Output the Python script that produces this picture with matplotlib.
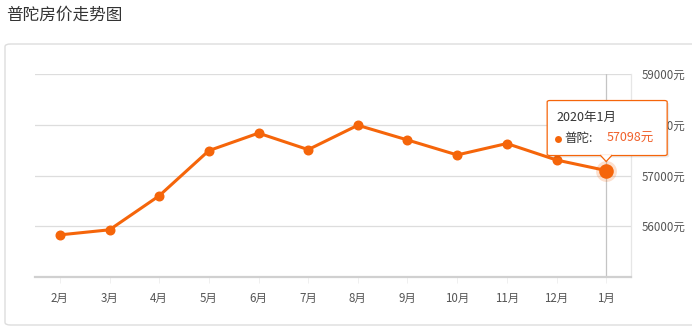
import matplotlib.pyplot as plt
from matplotlib.patches import FancyBboxPatch, Polygon
from matplotlib.lines import Line2D

plt.rcParams['font.family'] = ['Noto Sans CJK SC', 'DejaVu Sans']

months = ['2月', '3月', '4月', '5月', '6月', '7月', '8月', '9月', '10月', '11月', '12月', '1月']
prices = [55830, 55930, 56600, 57490, 57835, 57510, 57990, 57700, 57405, 57630, 57305, 57098]
yticks = [56000, 57000, 58000, 59000]
title = '普陀房价走势图'
tip_title = '2020年1月'
series_name = '普陀'

W, H = 692, 330
orange = '#f5650a'
fig = plt.figure(figsize=(W / 100, H / 100), dpi=100)


def fx(px):
    return px / W


def fy(py):
    return 1 - py / H


# title and outer card
fig.text(fx(6), fy(15), title, fontsize=12, color='#333333', va='center', ha='left')
card = FancyBboxPatch((fx(5), fy(325)), fx(720) - fx(5), fy(44) - fy(325),
                      boxstyle='round,pad=0,rounding_size=0.008', transform=fig.transFigure,
                      facecolor='white', edgecolor='#dddddd', linewidth=1, zorder=-5)
fig.patches.append(card)

ax = fig.add_axes([fx(35), fy(277), fx(631) - fx(35), fy(74) - fy(277)])
ax.set_xlim(-0.5, len(months) - 0.5)
ax.set_ylim(55000, 59000)
ax.set_facecolor('none')

x = list(range(len(months)))
ax.plot(x, prices, color=orange, linewidth=2.2, marker='o', markersize=6.2, zorder=3,
        solid_capstyle='round')
# highlighted last point
ax.plot(x[-1], prices[-1], 'o', markersize=15, color=orange, alpha=0.2, zorder=3, markeredgewidth=0)
ax.plot(x[-1], prices[-1], 'o', markersize=10.5, color=orange, zorder=4, markeredgewidth=0)

# grid and axes
ax.set_yticks(yticks)
ax.set_yticklabels([f'{v}元' for v in yticks])
ax.yaxis.tick_right()
ax.tick_params(axis='y', length=0, pad=8, labelsize=8.3, labelcolor='#555555')
for v in yticks:
    ax.axhline(v, color='#dddddd', linewidth=0.9, zorder=1)
ax.set_xticks(x)
ax.set_xticklabels(months)
ax.tick_params(axis='x', length=4, width=0.6, color='#eeeeee', pad=7, labelsize=8.3,
               labelcolor='#555555')
for s in ['top', 'left']:
    ax.spines[s].set_visible(False)
ax.spines['right'].set_color('#e6e6e6')
ax.spines['right'].set_linewidth(0.9)
ax.spines['bottom'].set_color('#d0d0d0')
ax.spines['bottom'].set_linewidth(1.6)

# axis pointer
ax.axvline(x[-1], color='#c4c4c4', linewidth=0.9, zorder=2)

# tooltip, placed relative to the last point in pixels
fig.canvas.draw()
px, py = ax.transData.transform((x[-1], prices[-1]))
py = H - py  # image coords (y down)
left, right, top, bottom = px - 59, px + 61, py - 70, py - 15
shadow = FancyBboxPatch((fx(left + 2), fy(bottom + 2)), fx(right) - fx(left), fy(top) - fy(bottom),
                        boxstyle='round,pad=0,rounding_size=0.004', transform=fig.transFigure,
                        facecolor='#000000', alpha=0.08, edgecolor='none', zorder=9)
box = FancyBboxPatch((fx(left), fy(bottom)), fx(right) - fx(left), fy(top) - fy(bottom),
                     boxstyle='round,pad=0,rounding_size=0.004', transform=fig.transFigure,
                     facecolor='white', edgecolor=orange, linewidth=0.9, zorder=10)
arrow = Polygon([(fx(px - 6), fy(bottom - 0.5)), (fx(px), fy(bottom + 6)), (fx(px + 6), fy(bottom - 0.5))],
                closed=False, transform=fig.transFigure, facecolor='white', edgecolor=orange,
                linewidth=0.9, zorder=11)
fig.patches.extend([shadow, box, arrow])
fig.text(fx(left + 9), fy(top + 17), tip_title, fontsize=9, color='#333333', va='center', zorder=12)
fig.add_artist(Line2D([fx(left + 11)], [fy(top + 38)], marker='o', markersize=5, color=orange,
                      markeredgewidth=0, transform=fig.transFigure, zorder=12))
fig.text(fx(left + 17), fy(top + 38), f'{series_name}:', fontsize=9, color='#333333',
         va='center', zorder=12)
fig.text(fx(left + 59), fy(top + 38), f'{prices[-1]}元', fontsize=9, color='#f0602a',
         va='center', zorder=12)

fig.savefig('out.png', dpi=100)
